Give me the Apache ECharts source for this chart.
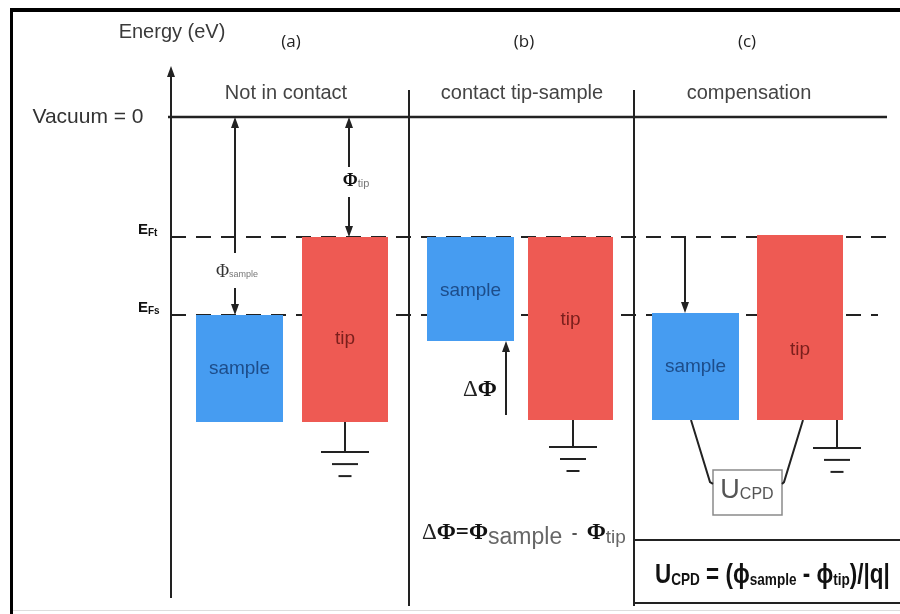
<!DOCTYPE html>
<html><head><meta charset="utf-8">
<script src="https://cdn.jsdelivr.net/npm/echarts@6/dist/echarts.min.js"></script>
<style>html,body{margin:0;padding:0;background:#fff}#c{width:900px;height:614px}</style>
</head><body><div id="c"></div>
<script>
// ---------------- DATA (energies in eV, vacuum level = 0; x in diagram units) ----------------
const levelNames    = ['Vacuum = 0', 'E_Ft', 'E_Fs'];
const levelEnergies = [0, -4.0, -6.6];
const levelFromX    = [168, 171, 171];
const levelToX      = [887, 890, 878];

const panelLetters = ['(a)', '(b)', '(c)'];
const panelTitles  = ['Not in contact', 'contact tip-sample', 'compensation'];
const dividerX     = [409, 634];
const dividerTop   = 0.9;
const dividerBot   = -16.3;

const boxNames  = ['sample', 'tip', 'sample', 'tip', 'sample', 'tip'];
const boxLeft   = [196, 302, 427, 528, 652, 757];
const boxRight  = [283, 388, 514, 613, 739, 843];
const boxTop    = [-6.6, -4.0, -4.0, -4.0, -6.53, -3.93];
const boxBottom = [-10.17, -10.17, -7.47, -10.1, -10.1, -10.1];

const groundX      = [345, 573, 837];
const groundTop    = [-10.17, -10.1, -10.1];
const groundBottom = [-11.17, -11.0, -11.03];

// arrows
const arrowNames = ['phi_sample', 'phi_tip', 'delta_phi', 'compensation'];
const arrowX     = [235, 349, 506, 685];
const arrowFrom  = [0, 0, -9.93, -4.0];
const arrowTo    = [-6.6, -4.0, -7.47, -6.53];
const arrowGapA  = [-4.53, -1.67, null, null];
const arrowGapB  = [-5.7, -2.67, null, null];
const arrowHeadFrom = [1, 1, 0, 0];
const arrowHeadTo   = [1, 1, 1, 1];

const energyAxisX = 171, energyAxisFrom = -16.03, energyAxisTo = 1.7;

// U_CPD box & wires
const ucpdBox  = [713, 782, -11.77, -13.27];
const wireLeft  = [[691, -10.1], [710, -12.17], [713, -12.23]];
const wireRight = [[803, -10.1], [784, -12.17], [782, -12.23]];
const formulaBox = [634, 900, -14.1, -16.2];

// ---------------- RENDER ----------------
const yMax = 117 / 30, yMin = -(614 - 117) / 30;
const chart = echarts.init(document.getElementById('c'), null, {renderer: 'canvas'});
const INK = '#222';
const BLUE = '#469cf1', RED = '#ee5a53';
const SANS = '"Liberation Sans", Arial, sans-serif';
const SERIF = '"Liberation Serif", "Times New Roman", serif';

function lineSeg(api, a, b, style) {
  const p = api.coord(a), q = api.coord(b);
  return {type: 'line', shape: {x1: p[0], y1: p[1], x2: q[0], y2: q[1]}, style: style};
}
function head(api, x, e, dir) { // dir: -1 up, +1 down (in pixels)
  const p = api.coord([x, e]);
  return {type: 'polygon', shape: {points: [[p[0], p[1]], [p[0] - 4, p[1] - dir * 11], [p[0] + 4, p[1] - dir * 11]]}, style: {fill: INK}};
}

const boxData = boxNames.map((n, i) => [boxLeft[i], boxRight[i], boxTop[i], boxBottom[i], n === 'tip' ? 1 : 0]);
const tipLabelDy = [0.55, 0.45, 0.62];
const samLabelDy = [0.5, 0.52, 0.5];

const levelData = levelNames.map((n, i) => [levelFromX[i], levelToX[i], levelEnergies[i], i]);
const arrowData = arrowNames.map((n, i) => [arrowX[i], arrowFrom[i], arrowTo[i], i]);

const texts = [
  {type: 'text', style: {text: 'Energy (eV)', x: 172, y: 32, align: 'center', verticalAlign: 'middle', font: '20px ' + SANS, fill: '#3a3a3a'}},
  ...panelLetters.map((t, i) => ({type: 'text', style: {text: t, x: [291, 524, 747][i], y: 42, align: 'center', verticalAlign: 'middle', font: '17px "Open Sans", sans-serif', fill: '#222'}})),
  ...panelTitles.map((t, i) => ({type: 'text', style: {text: t, x: [286, 522, 749][i], y: 93, align: 'center', verticalAlign: 'middle', font: '20px ' + SANS, fill: '#444'}})),
  {type: 'text', style: {text: levelNames[0], x: 88, y: 117, align: 'center', verticalAlign: 'middle', font: '21px ' + SANS, fill: '#333'}},
  {type: 'text', style: {text: '{e|E}{s|Ft}', x: 138, y: 230, verticalAlign: 'middle',
    rich: {e: {font: 'bold 15px ' + SANS, fill: '#111'}, s: {font: 'bold 10px ' + SANS, fill: '#111', padding: [7, 0, 0, 0]}}}},
  {type: 'text', style: {text: '{e|E}{s|Fs}', x: 138, y: 308, verticalAlign: 'middle',
    rich: {e: {font: 'bold 15px ' + SANS, fill: '#111'}, s: {font: 'bold 10px ' + SANS, fill: '#111', padding: [7, 0, 0, 0]}}}},
  {type: 'text', style: {text: '{p|Φ}{s|sample}', x: 237, y: 272, align: 'center', verticalAlign: 'middle',
    rich: {p: {font: '18px ' + SERIF, fill: '#333'}, s: {font: '9px ' + SANS, fill: '#777', padding: [6, 0, 0, 0]}}}},
  {type: 'text', style: {text: '{p|Φ}{s|tip}', x: 356, y: 181, align: 'center', verticalAlign: 'middle',
    rich: {p: {font: 'bold 18px ' + SERIF, fill: '#111'}, s: {font: '11px ' + SANS, fill: '#777', padding: [6, 0, 0, 0]}}}},
  {type: 'text', style: {text: '{d|Δ}{p|Φ}', x: 480, y: 390, align: 'center', verticalAlign: 'middle',
    rich: {d: {font: '23px ' + SERIF, fill: '#222'}, p: {font: 'bold 23px ' + SERIF, fill: '#111'}}}},
  {type: 'text', style: {text: '{d|Δ}{p|Φ=Φ}{s|sample}{m|  -  }{p|Φ}{t|tip}', x: 422, y: 533, verticalAlign: 'middle',
    rich: {d: {font: '23px ' + SERIF, fill: '#222'}, p: {font: 'bold 23px ' + SERIF, fill: '#111'},
           s: {font: '23px ' + SANS, fill: '#666', padding: [9, 0, 0, 0]}, t: {font: '19px ' + SANS, fill: '#666', padding: [9, 0, 0, 0]},
           m: {font: 'bold 17px ' + SANS, fill: '#555'}}}},
  {type: 'text', style: {text: '{u|U}{s|CPD}', x: 747, y: 491, align: 'center', verticalAlign: 'middle',
    rich: {u: {font: '27px ' + SANS, fill: '#555'}, s: {font: '16px ' + SANS, fill: '#555', padding: [8, 0, 0, 0]}}}},
  {type: 'text', x: 655, y: 575, scaleX: 0.8, style: {text: '{u|U}{s|CPD}{u| = (ϕ}{s|sample}{u| - ϕ}{s|tip}{u|)/|q|}', x: 0, y: 0, verticalAlign: 'middle',
    rich: {u: {font: 'bold 28px ' + SANS, fill: '#111'},
           s: {font: 'bold 17px ' + SANS, fill: '#111', padding: [10, 0, 0, 0]}}}}
].map(t => Object.assign({z: 100}, t));

const option = {
  animation: false,
  grid: {left: 0, right: 0, top: 0, bottom: 0},
  xAxis: {type: 'value', min: 0, max: 900, show: false},
  yAxis: {type: 'value', min: yMin, max: yMax, show: false},
  series: [
    {
      type: 'custom', clip: false, silent: true,
      data: [[0]],
      renderItem: (params, api) => {
        const ch = [];
        ch.push(lineSeg(api, [energyAxisX, energyAxisFrom], [energyAxisX, energyAxisTo - 0.3], {stroke: INK, lineWidth: 2}));
        ch.push(head(api, energyAxisX, energyAxisTo, -1));
        dividerX.forEach(x => ch.push(lineSeg(api, [x, dividerTop], [x, dividerBot], {stroke: INK, lineWidth: 2})));
        ch.push(lineSeg(api, [formulaBox[0], formulaBox[2]], [formulaBox[1], formulaBox[2]], {stroke: INK, lineWidth: 2}));
        ch.push(lineSeg(api, [formulaBox[0], formulaBox[3]], [formulaBox[1], formulaBox[3]], {stroke: INK, lineWidth: 2}));
        return {type: 'group', children: ch};
      }
    },
    {
      type: 'custom', clip: false, silent: true, z: 1,
      data: levelData,
      renderItem: (params, api) => {
        const i = api.value(3);
        const dashed = i > 0;
        return lineSeg(api, [api.value(0), api.value(2)], [api.value(1), api.value(2)],
          {stroke: INK, lineWidth: dashed ? 2 : 2.5, lineDash: dashed ? [15, 10] : null});
      }
    },
    {
      type: 'custom', clip: false, silent: true, z: 3,
      data: boxData,
      renderItem: (params, api) => {
        const i = params.dataIndex;
        const p0 = api.coord([api.value(0), api.value(2)]);
        const p1 = api.coord([api.value(1), api.value(3)]);
        const isTip = api.value(4) === 1;
        const panel = Math.floor(i / 2);
        const fr = isTip ? tipLabelDy[panel] : samLabelDy[panel];
        return {type: 'group', children: [
          {type: 'rect', shape: {x: p0[0], y: p0[1], width: p1[0] - p0[0], height: p1[1] - p0[1]},
           style: {fill: isTip ? RED : BLUE}},
          {type: 'text', style: {text: boxNames[i], x: (p0[0] + p1[0]) / 2, y: p0[1] + (p1[1] - p0[1]) * fr,
            align: 'center', verticalAlign: 'middle', font: '19px ' + SANS, fill: isTip ? '#7a1f1c' : '#1d4d8a'}}
        ]};
      }
    },
    {
      type: 'custom', clip: false, silent: true,
      data: groundX.map((x, i) => [x, groundTop[i], groundBottom[i]]),
      renderItem: (params, api) => {
        const p = api.coord([api.value(0), api.value(1)]);
        const q = api.coord([api.value(0), api.value(2)]);
        const st = {stroke: INK, lineWidth: 2};
        const ch = [{type: 'line', shape: {x1: p[0], y1: p[1], x2: q[0], y2: q[1]}, style: st}];
        [[24, 0], [13, 12], [6.5, 24]].forEach(([hw, dy]) => {
          ch.push({type: 'line', shape: {x1: q[0] - hw, y1: q[1] + dy, x2: q[0] + hw, y2: q[1] + dy}, style: st});
        });
        return {type: 'group', children: ch};
      }
    },
    {
      type: 'custom', clip: false, silent: true, z: 4,
      data: arrowData,
      renderItem: (params, api) => {
        const i = api.value(3);
        const x = api.value(0), a = api.value(1), b = api.value(2);
        const dir = b < a ? 1 : -1;
        const st = {stroke: INK, lineWidth: 2};
        const ch = [];
        const sh = 10 / 30;
        const aa = arrowHeadFrom[i] ? a - dir * sh : a;
        const bb = arrowHeadTo[i] ? b + dir * sh : b;
        if (arrowGapA[i] != null) {
          ch.push(lineSeg(api, [x, aa], [x, arrowGapA[i]], st));
          ch.push(lineSeg(api, [x, arrowGapB[i]], [x, bb], st));
        } else {
          ch.push(lineSeg(api, [x, aa], [x, bb], st));
        }
        if (arrowHeadTo[i]) ch.push(head(api, x, b, dir));
        if (arrowHeadFrom[i]) ch.push(head(api, x, a, -dir));
        return {type: 'group', children: ch};
      }
    },
    {
      type: 'custom', clip: false, silent: true,
      data: [[0]],
      renderItem: (params, api) => {
        const p0 = api.coord([ucpdBox[0], ucpdBox[2]]), p1 = api.coord([ucpdBox[1], ucpdBox[3]]);
        const ch = [{type: 'rect', shape: {x: p0[0], y: p0[1], width: p1[0] - p0[0], height: p1[1] - p0[1]},
          style: {fill: null, stroke: '#8a8a8a', lineWidth: 1.5}}];
        [wireLeft, wireRight].forEach(w => ch.push({type: 'polyline', shape: {points: w.map(pt => api.coord(pt))},
          style: {stroke: INK, lineWidth: 2, fill: null}}));
        return {type: 'group', children: ch};
      }
    }
  ],
  graphic: [
    {type: 'rect', z: 100, shape: {x: 10, y: 8, width: 895, height: 4}, style: {fill: '#000'}},
    {type: 'rect', z: 100, shape: {x: 10, y: 8, width: 3, height: 610}, style: {fill: '#000'}},
    {type: 'rect', z: 100, shape: {x: 13, y: 610, width: 890, height: 1}, style: {fill: '#ddd'}},
    ...texts
  ]
};
chart.setOption(option);
</script></body></html>
